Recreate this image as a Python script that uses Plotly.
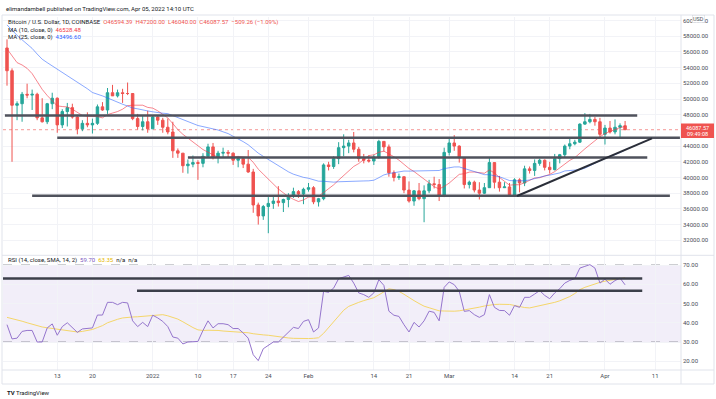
import pandas as pd
import plotly.graph_objects as go

# ---------------- data (BTC/USD daily, Coinbase) ----------------
start_date = "2021-12-03"

opens = [
    56500, 53600, 49200, 49400, 50600, 50500, 50600, 47600, 47100, 49400,
    50100, 46700, 48400, 48900, 47700, 46200, 46900, 46700, 46900, 49000,
    48600, 50800, 50400, 50800, 50700, 50700, 47500, 46500, 47100, 46200,
    47700, 47300, 46400, 45800, 43400, 43100, 41500, 41700, 41900, 41800,
    42700, 43900, 42600, 43100, 43200, 43100, 42200, 42400, 41700, 40700,
    36500, 35100, 36300, 36700, 37000, 36800, 37200, 37700, 38200, 37900,
    38500, 38700, 36900, 37300, 41600, 41400, 42400, 43800, 44000, 44400,
    43600, 42400, 42200, 42100, 42600, 44600, 43900, 40600, 40000, 40100,
    38400, 37000, 38300, 37300, 38300, 39200, 39100, 37700, 43200, 44400,
    44000, 42500, 39100, 39400, 38400, 38000, 38700, 41900, 39400, 38700,
    38800, 37800, 39700, 39300, 41100, 40900, 41800, 42200, 41300, 41000,
    42400, 42900, 44000, 44300, 44500, 46800, 47100, 47400, 47100, 45500,
    46300, 45800, 46400, 46594.39,
]
highs = [
    57600, 53900, 49700, 50900, 51950, 51200, 50800, 50100, 49500, 50800,
    50200, 48700, 49500, 49400, 48000, 47300, 48300, 47500, 49300, 49600,
    51400, 51800, 51200, 51300, 52100, 50700, 48100, 47900, 48500, 47900,
    47900, 47600, 47500, 47100, 43700, 43100, 42300, 42800, 42200, 43100,
    44300, 44400, 43400, 43800, 43500, 43200, 42700, 42600, 43500, 41100,
    36800, 36500, 37500, 37600, 38900, 37300, 38000, 38700, 38400, 38700,
    39300, 38900, 37400, 41800, 42000, 42700, 44500, 45500, 44800, 45800,
    43900, 43000, 42800, 42900, 44800, 44600, 44200, 40900, 40500, 40100,
    39500, 38400, 39300, 39000, 39700, 40100, 39800, 43800, 44900, 45400,
    44100, 42500, 39600, 39600, 39400, 39300, 42600, 41900, 40200, 39400,
    39300, 39900, 39900, 41500, 41400, 42300, 42400, 42300, 42000, 43000,
    43000, 44200, 45100, 44800, 46900, 48200, 48100, 47700, 47600, 46700,
    47200, 47400, 46900, 47200,
]
lows = [
    51700, 42000, 47300, 47100, 50100, 48600, 47300, 47000, 46800, 48700,
    45700, 46300, 46500, 47500, 45500, 45900, 46400, 45600, 46700, 48500,
    48100, 50500, 50200, 49500, 50500, 47300, 46100, 46000, 45700, 46200,
    46700, 45700, 45500, 42500, 42500, 40600, 40500, 41300, 39700, 41300,
    42500, 42300, 41800, 42600, 42600, 41600, 41300, 41200, 40600, 35500,
    34000, 34600, 32900, 36000, 36300, 35600, 36200, 37400, 37400, 36600,
    38200, 36600, 36300, 37100, 40900, 41100, 41700, 42700, 43100, 43200,
    42000, 41800, 41900, 41600, 42400, 43300, 40100, 39500, 39700, 38000,
    36800, 36400, 37100, 34300, 38000, 38600, 37000, 37500, 42800, 43400,
    41900, 38600, 38600, 38100, 37200, 37900, 38700, 38600, 38200, 38700,
    37600, 37600, 38100, 38900, 40500, 40200, 41500, 40900, 40500, 40900,
    41800, 42500, 43600, 44100, 44400, 46700, 46900, 46600, 45200, 44200,
    45600, 45500, 45100, 46040,
]
closes = [
    53600, 49200, 49400, 50600, 50500, 50600, 47600, 47100, 49400, 50100,
    46700, 48400, 48900, 47700, 46200, 46900, 46700, 46900, 49000, 48600,
    50800, 50400, 50800, 50700, 50700, 47500, 46500, 47100, 46200, 47700,
    47300, 46400, 45800, 43400, 43100, 41500, 41700, 41900, 41800, 42700,
    43900, 42600, 43100, 43200, 43100, 42200, 42400, 41700, 40700, 36500,
    35100, 36300, 36700, 37000, 36800, 37200, 37700, 38200, 37900, 38500,
    38700, 36900, 37300, 41600, 41400, 42400, 43800, 44000, 44400, 43600,
    42400, 42200, 42100, 42600, 44600, 43900, 40600, 40000, 40100, 38400,
    37000, 38300, 37300, 38300, 39200, 39100, 37700, 43200, 44400, 44000,
    42500, 39100, 39400, 38400, 38000, 38700, 41900, 39400, 38700, 38800,
    37800, 39700, 39300, 41100, 40900, 41800, 42200, 41300, 41000, 42400,
    42900, 44000, 44300, 44500, 46800, 47100, 47400, 47100, 45500, 46300,
    45800, 46400, 46600, 46087.57,
]
# closes of the 24 days before the first candle (feed the moving averages)
prior_closes = [
    66900, 64900, 64800, 64100, 64400, 65500, 63600, 60300, 60300, 56900,
    58100, 59700, 58700, 56300, 57600, 57200, 58900, 53600, 54800, 57300,
    57800, 56950, 57200, 56500,
]
rsi = [
    39, 31.6, 32, 35.5, 36, 36, 30, 30, 37.3, 39.4,
    33.5, 38, 40, 37.6, 35, 36.8, 37, 37.3, 44, 44,
    50.6, 50.6, 49.4, 50.6, 50.3, 41, 38, 40.2, 38, 43.9,
    42.5, 40.7, 38, 32.6, 32, 29, 30, 30.3, 30.3, 36,
    41, 37.3, 39.5, 39.5, 39, 37, 37, 34.7, 32, 23.4,
    20.3, 26.5, 28.3, 30, 30, 32.6, 35.2, 37.6, 37, 40.7,
    41.6, 35.2, 37.3, 56.3, 55.8, 58, 62.9, 63.6, 64.6, 60.6,
    55.5, 54.6, 53.2, 55.5, 62.4, 59.4, 46, 43.9, 43.3, 39,
    35.2, 40.2, 37.8, 41, 46, 45.4, 41, 58.4, 61.2, 59.8,
    56.3, 45.9, 46.3, 44.2, 42.8, 44.2, 54.6, 48, 46.4, 46.3,
    43.9, 48.9, 48, 53.2, 53.2, 54.9, 56.7, 54.2, 52.5, 55.5,
    57.7, 60.6, 62, 62.9, 68.4, 69.3, 70.2, 68.4, 60.6, 62.7,
    60, 61.9, 63.2, 59.7,
]
rsi_ma = [
    42.8, 42.2, 41.5, 40.8, 40, 39.2, 38.3, 37.8, 37.4, 37,
    36.6, 36.2, 35.8, 35.4, 35.2, 35.5, 36, 36.5, 37.5, 38.5,
    40, 41, 41.8, 42.5, 42.9, 43, 43.1, 43.3, 43.5, 43.8,
    44, 44.2, 43.6, 42.8, 41.9, 40.5, 38.8, 37.5, 36.3, 36,
    36.1, 36.2, 36, 35.7, 35.5, 35.4, 35.3, 35.2, 34.8, 34.3,
    33.9, 33.7, 33.5, 33.1, 32.7, 32.4, 32.1, 31.9, 31.8, 31.7,
    31.8, 31.9, 32.2, 34.5, 37.5, 41, 44, 46.5, 48.5, 49.7,
    50.6, 51.5, 52.3, 53, 54.5, 56.2, 57.6, 57.2, 56.3, 54.8,
    53, 51.5, 50, 48.6, 47.8, 46.8, 46.2, 46.1, 46, 46,
    46.2, 46.6, 47.1, 47.6, 48.1, 48.7, 49.3, 49.5, 49.6, 49.7,
    49.5, 49, 48.4, 47.9, 47.7, 48.2, 48.8, 49.4, 50, 50.6,
    51.4, 52.3, 53.6, 55.2, 57.2, 58.4, 59.4, 60.3, 61, 61.6,
    62.1, 62.7, 63.2, 63.35,
]

# drawn support / resistance levels (price, from, to)
level_prices = [47900, 45050, 42550, 37680]
level_from = ["2021-12-02 14:00", "2021-12-13 00:00", "2022-01-08 00:00", "2021-12-08 00:00"]
level_to = ["2022-04-07 10:00", "2022-04-15 22:00", "2022-04-09 10:00", "2022-04-13 22:00"]
trend_dates = ["2022-03-14 12:00", "2022-04-10 08:40"]
trend_prices = [37640, 44990]
rsi_level_values = [63.0, 56.6]
rsi_level_from = ["2021-12-02 04:00", "2021-12-28 21:00"]
rsi_level_to = ["2022-04-08 10:00", "2022-04-08 10:00"]

tick_dates = ["2021-12-13", "2021-12-20", "2022-01-01", "2022-01-10", "2022-01-17",
              "2022-01-24", "2022-02-01", "2022-02-14", "2022-02-21", "2022-03-01",
              "2022-03-14", "2022-03-21", "2022-04-01", "2022-04-11"]
tick_text = ["13", "20", "2022", "10", "17", "24", "Feb", "14", "21", "Mar",
             "14", "21", "Apr", "11"]
price_ticks = [32000, 34000, 36000, 38000, 40000, 42000, 44000, 48000,
               50000, 52000, 54000, 56000, 58000, 60000]
rsi_ticks = [20, 30, 40, 50, 60, 70]

# ---------------- derived series ----------------
dates = pd.date_range(start_date, periods=len(closes), freq="D")
hist = pd.Series(prior_closes + closes, dtype=float)
ma10 = hist.rolling(10).mean().to_numpy()[len(prior_closes):]
ma25 = hist.rolling(25).mean().to_numpy()[len(prior_closes):]

# ---------------- geometry ----------------
W, H = 716, 399
PL, PR, PT, PB = 3, 681, 17, 370
MAIN_BOTTOM, RSI_TOP = 254.5, 256


def xp(x):
    return (x - PL) / (PR - PL)


def yp(y):
    return (PB - y) / (PB - PT)


t0 = pd.Timestamp(start_date)
x_range = [t0 + pd.Timedelta(days=(PL - 7) / 5.025), t0 + pd.Timedelta(days=(PR - 7) / 5.025)]

UP, DOWN = "#26a69a", "#ef5350"
FONT = "Roboto, Liberation Sans, Arial"
TXT = "#131722"
AX = "#4a4d57"

fig = go.Figure()

fig.add_trace(go.Candlestick(
    x=dates, open=opens, high=highs, low=lows, close=closes,
    increasing=dict(line=dict(color=UP, width=1), fillcolor=UP),
    decreasing=dict(line=dict(color=DOWN, width=1), fillcolor=DOWN),
    whiskerwidth=0, showlegend=False, hoverinfo="skip",
    xaxis="x", yaxis="y",
))
fig.add_trace(go.Scatter(x=dates, y=ma10, mode="lines",
                         line=dict(color="rgba(242,54,69,0.6)", width=1),
                         showlegend=False, hoverinfo="skip", xaxis="x", yaxis="y"))
fig.add_trace(go.Scatter(x=dates, y=ma25, mode="lines",
                         line=dict(color="rgba(41,98,255,0.55)", width=1),
                         showlegend=False, hoverinfo="skip", xaxis="x", yaxis="y"))

for p, a, b in zip(level_prices, level_from, level_to):
    fig.add_trace(go.Scatter(x=[a, b], y=[p, p], mode="lines",
                             line=dict(color="#4f525c", width=2.5),
                             showlegend=False, hoverinfo="skip", xaxis="x", yaxis="y"))
fig.add_trace(go.Scatter(x=trend_dates, y=trend_prices, mode="lines",
                         line=dict(color="#2a2e39", width=2),
                         showlegend=False, hoverinfo="skip", xaxis="x", yaxis="y"))

# RSI pane
fig.add_trace(go.Scatter(x=dates, y=rsi_ma, mode="lines",
                         line=dict(color="#f5d66a", width=1),
                         showlegend=False, hoverinfo="skip", xaxis="x2", yaxis="y2"))
fig.add_trace(go.Scatter(x=dates, y=rsi, mode="lines",
                         line=dict(color="#9575cd", width=1),
                         showlegend=False, hoverinfo="skip", xaxis="x2", yaxis="y2"))
for v, a, b in zip(rsi_level_values, rsi_level_from, rsi_level_to):
    fig.add_trace(go.Scatter(x=[a, b], y=[v, v], mode="lines",
                             line=dict(color="#3c3f4a", width=2.5),
                             showlegend=False, hoverinfo="skip", xaxis="x2", yaxis="y2"))

shapes = []
# RSI band and dashed levels
shapes.append(dict(type="rect", xref="paper", yref="y2", x0=0, x1=1, y0=30, y1=70,
                   fillcolor="rgba(126,87,194,0.10)", line=dict(width=0), layer="below"))
for lv in (70, 50, 30):
    shapes.append(dict(type="line", xref="paper", yref="y2", x0=0, x1=1, y0=lv, y1=lv,
                       line=dict(color="rgba(120,123,134,0.75)", width=1, dash="dash"),
                       layer="below"))
# last price dotted line
shapes.append(dict(type="line", xref="paper", yref="y", x0=0, x1=1,
                   y0=closes[-1], y1=closes[-1],
                   line=dict(color="rgba(239,83,80,0.6)", width=1, dash="dot"), layer="below"))
# frame / separators
BORDER = "#e0e3eb"
shapes.append(dict(type="rect", xref="paper", yref="paper", x0=xp(2), x1=xp(714),
                   y0=yp(384), y1=yp(15), line=dict(color=BORDER, width=1)))
shapes.append(dict(type="line", xref="paper", yref="paper", x0=xp(681), x1=xp(681),
                   y0=yp(384), y1=yp(15), line=dict(color=BORDER, width=1)))
shapes.append(dict(type="line", xref="paper", yref="paper", x0=xp(2), x1=xp(714),
                   y0=yp(255.3), y1=yp(255.3), line=dict(color=BORDER, width=1)))
shapes.append(dict(type="line", xref="paper", yref="paper", x0=xp(2), x1=xp(714),
                   y0=yp(370), y1=yp(370), line=dict(color=BORDER, width=1)))
# price tag on axis
shapes.append(dict(type="rect", xref="paper", yref="paper", x0=xp(681), x1=xp(714),
                   y0=yp(138), y1=yp(123.5), fillcolor=DOWN, line=dict(width=0),
                   layer="above"))

ann = []


def txt(x, y, text, size=6, color=TXT, anchor="left", **kw):
    ann.append(dict(xref="paper", yref="paper", x=xp(x), y=yp(y), text=text,
                    showarrow=False, xanchor=anchor, yanchor="middle",
                    font=dict(family=FONT, size=size, color=color), **kw))


txt(4, 8.5, "elimandambell published on TradingView.com, Apr 05, 2022 14:10 UTC", 6)
txt(6, 22, "Bitcoin / U.S. Dollar, 1D, COINBASE  "
           "<span style='color:#ef5350'>O46594.39  H47200.00  L46040.00  C46087.57  "
           "\u2212509.26 (\u22121.09%)</span>", 6)
txt(6, 29.5, "MA (10, close, 0)  <span style='color:#f23645'>46528.48</span>", 6)
txt(6, 37, "MA (25, close, 0)  <span style='color:#2962ff'>43496.60</span>", 6)
txt(6, 260, "RSI (14, close, SMA, 14, 2)  <span style='color:#7e57c2'>59.70</span>  "
            "<span style='color:#e6b800'>63.35</span>  n/a  n/a", 6)
txt(697.5, 127.5, "46087.57", 5.5, "#ffffff", "center")
txt(697.5, 134, "09:49:08", 5.5, "#ffffff", "center")
txt(698, 19.5, "USD", 5.5, AX, "center", bgcolor="#ffffff", bordercolor="#d1d4dc",
    borderwidth=0.5, borderpad=0.5)
txt(5, 392, "<b>TV</b> TradingView", 6, TXT)

fig.update_layout(
    width=W, height=H,
    margin=dict(l=PL, r=W - PR, t=PT, b=H - PB),
    paper_bgcolor="#ffffff", plot_bgcolor="#ffffff",
    shapes=shapes, annotations=ann,
    font=dict(family=FONT, size=6, color=AX),
    xaxis=dict(type="date", range=x_range, anchor="y", domain=[0, 1],
               showticklabels=False, showgrid=True, gridcolor="#f2f3f7", gridwidth=1,
               tickvals=tick_dates, zeroline=False, showline=False, ticks="",
               rangeslider=dict(visible=False), fixedrange=True),
    xaxis2=dict(type="date", range=x_range, anchor="y2", domain=[0, 1], matches="x",
                tickvals=tick_dates, ticktext=tick_text, showgrid=True,
                gridcolor="#f2f3f7", gridwidth=1, zeroline=False, showline=False,
                ticks="", ticklen=0, tickfont=dict(size=6, color=AX), ticklabelstandoff=1,
                rangeslider=dict(visible=False)),
    yaxis=dict(domain=[yp(MAIN_BOTTOM), 1], range=[50000 - (MAIN_BOTTOM - 99) * 127.4,
                                                  50000 + (99 - PT) * 127.4],
               side="right", anchor="x", tickvals=price_ticks,
               ticktext=[f"{v:.2f}" for v in price_ticks], showgrid=True,
               gridcolor="#f2f3f7", zeroline=False, showline=False, ticks="", ticklen=0,
               tickfont=dict(size=6, color=AX), ticklabelstandoff=1),
    yaxis2=dict(domain=[0, yp(RSI_TOP)], range=[70 - (PB - 265) / 1.925, 70 + (265 - RSI_TOP) / 1.925],
                side="right", anchor="x2", tickvals=rsi_ticks,
                ticktext=[f"{v:.2f}" for v in rsi_ticks], showgrid=True,
                gridcolor="#f2f3f7", zeroline=False, showline=False, ticks="", ticklen=0,
                tickfont=dict(size=6, color=AX), ticklabelstandoff=1),
)

fig.write_html(
    "out.html",
    config={"displayModeBar": False, "staticPlot": True},
    post_script="document.documentElement.style.margin='0';"
                "document.body.style.margin='0';document.body.style.padding='0';"
                "document.body.style.overflow='hidden';",
)
